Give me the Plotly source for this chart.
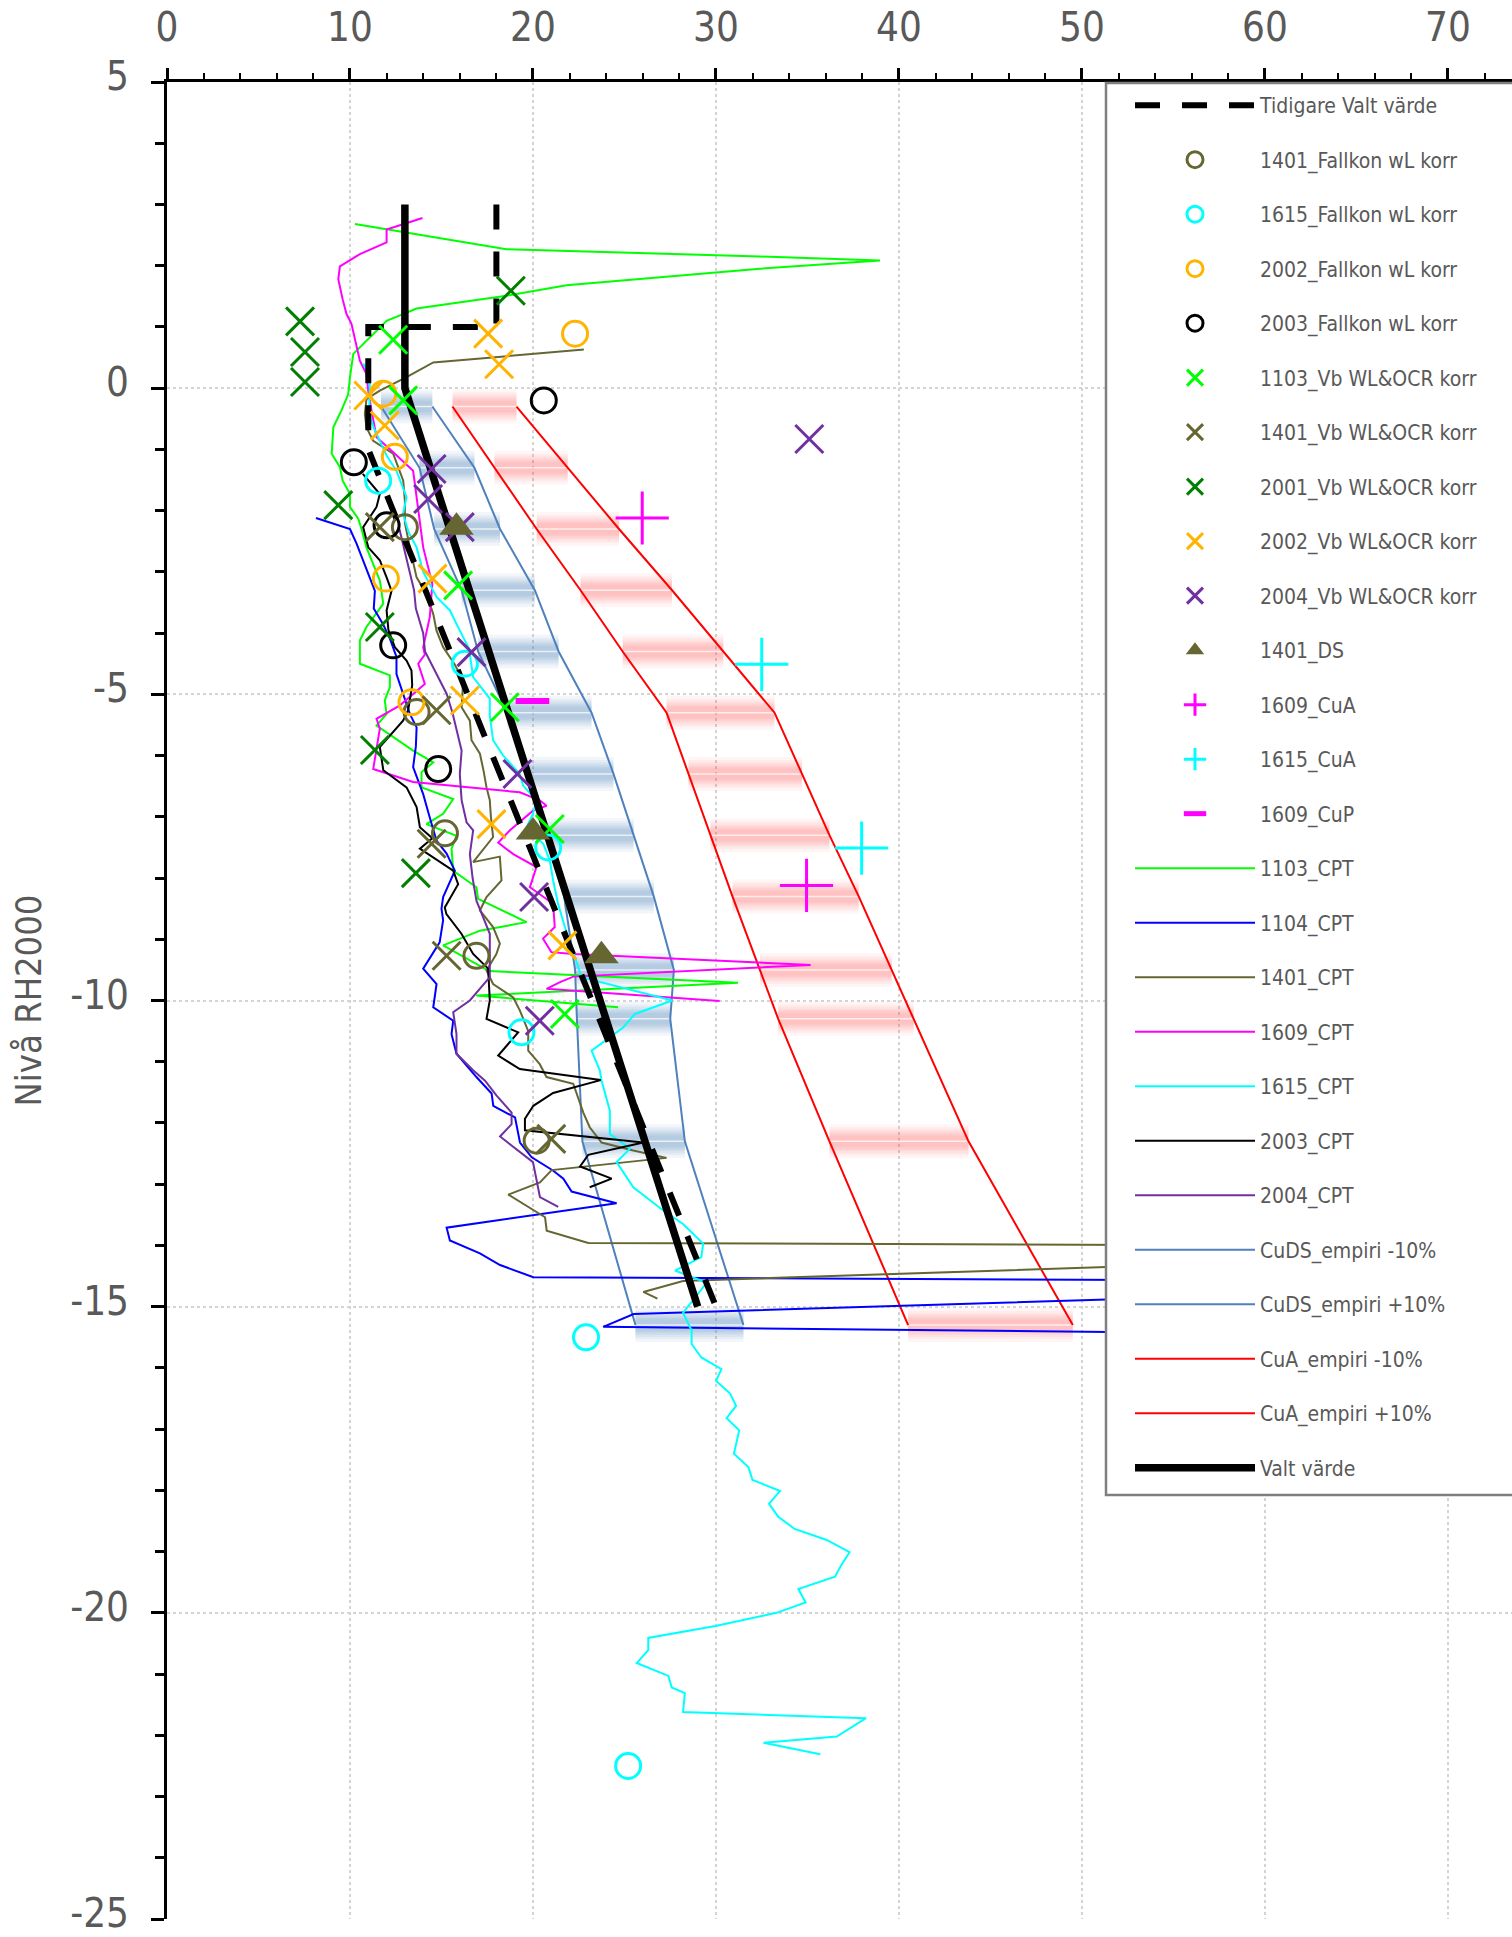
import plotly.graph_objects as go

FONT = "Liberation Sans Narrow, DejaVu Sans Condensed, Arial Narrow, sans-serif"
GREY = "#595959"

# ---------------- CPT soundings (x: shear strength, y: level RH2000) ----------------
cpt1103_x = [10.27, 18.55, 32.4, 38.96, 32.4, 21.83, 18.55, 13.64, 12.0, 11.27, 10.18, 10.0, 9.9, 9.54,
             9.09, 9.0, 9.45, 9.6, 10.0, 10.0, 10.45, 10.63, 10.9, 11.3, 11.63, 11.82, 10.9, 10.54, 10.54,
             12.18, 12.18, 11.9, 12.0, 11.45, 12.36, 13.45, 14.55, 13.91, 13.91, 15.64, 15.09, 14.18, 15.82,
             15.55, 15.64, 16.91, 17.0, 19.65, 17.1, 15.09, 17.6, 31.2, 16.9, 24.65]
cpt1103_y = [2.68, 2.27, 2.15, 2.085, 1.95, 1.68, 1.51, 1.30, 1.10, 0.89, 0.56, 0.18, -0.10, -0.36,
             -0.64, -1.07, -1.29, -1.51, -1.73, -1.94, -2.13, -2.30, -2.60, -2.90, -3.14, -3.52, -3.90, -4.12, -4.50,
             -4.69, -4.88, -5.10, -5.32, -5.51, -5.70, -5.92, -6.11, -6.27, -6.52, -6.71, -6.95, -7.12, -7.31,
             -7.52, -7.88, -8.15, -8.34, -8.72, -8.86, -9.10, -9.52, -9.71, -9.92, -10.11]

cpt1104_x = [8.14, 10.0, 10.36, 10.9, 11.36, 11.3, 11.8, 12.18, 12.54, 12.54, 13.27, 13.64, 13.6, 13.45,
             13.7, 14.0, 14.3, 14.73, 15.28, 15.73, 15.09, 15.0, 15.09, 14.9, 14.0, 14.73, 14.55, 15.64,
             15.55, 15.82, 16.91, 17.74, 17.83, 19.02, 19.29, 19.93, 21.11, 21.66, 22.11, 24.57, 15.28,
             15.46, 17.10, 18.2, 20.02, 80.0, 80.0, 25.5, 23.84, 80.0]
cpt1104_y = [-2.12, -2.30, -2.54, -2.95, -3.31, -3.60, -3.85, -4.09, -4.39, -4.67, -5.32, -5.54, -5.85, -6.19,
             -6.40, -6.63, -6.95, -7.39, -7.60, -7.88, -8.31, -8.50, -8.69, -9.05, -9.48, -9.73, -10.11, -10.33,
             -10.55, -10.87, -11.25, -11.52, -11.72, -11.91, -12.32, -12.56, -12.78, -12.91, -13.12, -13.31, -13.71,
             -13.92, -14.13, -14.32, -14.52, -14.60, -14.62, -15.12, -15.33, -15.50]

cpt1401_x = [22.78, 14.55, 13.09, 11.63, 10.9, 10.81, 10.9, 11.27, 12.36, 12.91, 13.0, 13.0, 13.27, 13.64,
             14.18, 14.55, 14.73, 15.09, 15.7, 16.19, 16.1, 16.55, 16.64, 17.1, 17.3, 17.46, 17.64, 17.7,
             17.82, 16.73, 18.19, 18.28, 17.46, 17.1, 17.82, 18.19, 18.0, 17.46, 17.82, 18.92, 19.28, 19.74,
             19.74, 20.37, 20.74, 22.2, 22.75, 23.1, 23.75, 25.48, 27.3, 21.02, 20.38, 18.65, 20.66, 20.75,
             23.02, 80.0, 80.0, 28.2, 26.03, 26.8]
cpt1401_y = [0.63, 0.42, 0.18, -0.04, -0.18, -0.42, -0.64, -0.86, -1.07, -1.51, -1.84, -2.20, -2.60, -3.09,
             -3.36, -3.69, -3.96, -4.23, -4.50, -4.77, -5.21, -5.43, -5.75, -5.97, -6.25, -6.52, -6.73, -7.00,
             -7.33, -7.74, -7.65, -8.04, -8.31, -8.53, -8.80, -9.07, -9.24, -9.51, -9.73, -9.95, -10.16, -10.50,
             -10.82, -11.04, -11.25, -11.36, -11.83, -12.07, -12.32, -12.45, -12.57, -12.77, -12.97, -13.17, -13.54, -13.76,
             -13.96, -14.02, -14.07, -14.58, -14.76, -14.87]

cpt1609_x = [13.96, 12.0, 12.0, 10.54, 9.45, 9.36, 9.6, 9.81, 10.08, 10.3, 10.54, 10.9, 11.0, 11.18,
             11.45, 12.2, 13.45, 13.64, 13.82, 14.0, 14.5, 14.36, 14.0, 14.09, 13.73, 14.09, 12.73, 11.45,
             11.63, 11.27, 13.45, 19.28, 20.37, 20.74, 20.0, 19.28, 18.74, 18.1, 18.92, 20.19, 19.83, 21.1,
             21.19, 20.55, 21.0, 22.2, 35.17, 22.2, 21.48, 20.74, 30.2]
cpt1609_y = [2.78, 2.59, 2.38, 2.19, 1.99, 1.78, 1.45, 1.21, 1.05, 0.75, 0.45, 0.23, -0.05, -0.37,
             -0.80, -1.00, -1.35, -1.78, -2.16, -2.60, -3.20, -3.74, -4.23, -4.35, -4.50, -4.83, -5.18, -5.40,
             -5.56, -6.22, -6.43, -6.60, -6.73, -6.82, -6.90, -7.09, -7.22, -7.42, -7.61, -7.82, -8.15, -8.42,
             -8.80, -8.99, -9.21, -9.24, -9.42, -9.61, -9.70, -9.81, -10.01]

cpt1615_x = [10.72, 11.09, 11.05, 11.3, 11.63, 12.0, 12.54, 13.09, 12.9, 13.2, 13.64, 14.0, 14.73, 15.46,
             16.0, 16.5, 16.6, 16.73, 17.64, 17.64, 17.82, 18.37, 19.28, 19.46, 20.19, 20.0, 19.65, 20.56,
             20.92, 21.1, 21.37, 21.74, 22.0, 22.3, 22.65, 27.62, 25.57, 24.93, 23.2, 23.65, 23.75, 24.2,
             24.2, 25.3, 24.57, 25.48, 27.12, 28.2, 29.3, 29.2, 27.76, 29.49, 28.2, 28.67, 28.67, 29.2,
             30.3, 30.0, 30.77, 31.1, 30.58, 31.27, 30.98, 31.77, 32.0, 33.5, 32.9, 33.4, 34.3, 36.05,
             37.3, 36.87, 36.5, 34.5, 34.9, 33.3, 30.04, 26.3, 26.3, 25.67, 27.4, 27.58, 28.3, 28.2,
             38.2, 36.6, 32.6, 35.7]
cpt1615_y = [0.40, 0.23, -0.42, -0.65, -0.86, -1.10, -1.35, -1.78, -2.05, -2.35, -2.60, -3.00, -3.41, -3.63,
             -3.96, -4.25, -4.45, -4.72, -5.07, -5.35, -5.75, -6.00, -6.30, -6.49, -6.73, -6.95, -7.17, -7.44,
             -7.71, -8.04, -8.42, -8.80, -9.02, -9.30, -9.62, -10.00, -10.22, -10.44, -10.82, -11.14, -11.31, -11.80,
             -12.18, -12.42, -12.64, -13.05, -13.43, -13.65, -13.97, -14.19, -14.41, -14.61, -15.10, -15.39, -15.61, -15.83,
             -16.02, -16.21, -16.42, -16.62, -16.82, -17.02, -17.40, -17.62, -17.83, -18.01, -18.22, -18.43, -18.63, -18.81,
             -19.01, -19.21, -19.41, -19.61, -19.83, -20.00, -20.21, -20.41, -20.61, -20.82, -21.03, -21.22, -21.31, -21.62,
             -21.72, -22.02, -22.12, -22.31]

cpt2003_x = [10.7, 11.63, 11.45, 10.72, 11.0, 11.63, 12.0, 12.27, 12.0, 12.1, 12.45, 13.09, 13.36, 13.4,
             13.18, 12.9, 11.63, 11.82, 13.09, 13.64, 13.82, 14.5, 13.82, 15.64, 15.91, 15.18, 15.27, 16.09,
             16.73, 17.55, 17.64, 17.46, 19.19, 18.1, 19.28, 23.7, 21.1, 20.02, 19.56, 19.56, 26.03, 23.02,
             22.57, 24.3, 23.1]
cpt2003_y = [-1.40, -1.73, -1.94, -2.27, -2.60, -2.81, -3.09, -3.31, -3.63, -3.95, -4.23, -4.45, -4.61, -4.85,
             -5.26, -5.43, -5.86, -6.24, -6.52, -6.84, -7.17, -7.35, -7.52, -7.88, -8.10, -8.48, -8.59, -8.91,
             -9.24, -9.48, -10.00, -10.30, -10.52, -10.90, -11.12, -11.30, -11.51, -11.72, -11.93, -12.12, -12.32, -12.52,
             -12.71, -12.91, -13.05]

cpt2004_x = [12.7, 12.9, 13.2, 13.5, 13.6, 14.0, 14.1, 14.6, 15.28, 15.6, 16.1, 16.0, 16.1, 16.37,
             16.73, 16.55, 16.7, 16.91, 17.28, 17.64, 17.64, 17.64, 16.55, 15.64, 15.82, 15.82, 16.73, 17.38,
             18.0, 18.83, 18.83, 18.2, 20.0, 20.2, 20.38, 21.38]
cpt2004_y = [-2.30, -2.54, -2.90, -3.30, -3.60, -4.00, -4.30, -4.60, -4.99, -5.30, -5.92, -6.30, -6.73, -7.09,
             -7.22, -7.61, -8.00, -8.37, -8.64, -8.91, -9.35, -9.62, -10.00, -10.19, -10.55, -10.87, -11.14, -11.31,
             -11.55, -11.83, -12.02, -12.22, -12.64, -12.97, -13.21, -13.37]

# ---------------- empirical strength bands ----------------
emp_level = [-0.3, -1.3, -2.3, -3.3, -4.3, -5.3, -6.3, -7.3, -8.3, -9.5, -10.3, -12.3, -15.3]
cuds_lo = [11.7, 13.8, 14.6, 16.1, 17.0, 18.6, 19.7, 20.7, 21.7, 22.3, 22.4, 22.7, 25.6]
cuds_hi = [14.5, 16.8, 18.2, 20.1, 21.4, 23.2, 24.4, 25.5, 26.6, 27.7, 27.5, 28.3, 31.5]
cua_lo = [15.6, 17.9, 20.2, 22.6, 24.9, 27.3, 28.5, 29.7, 30.9, 32.4, 33.4, 36.2, 40.5]
cua_hi = [19.1, 21.9, 24.7, 27.6, 30.4, 33.2, 34.7, 36.2, 37.8, 39.6, 40.8, 43.8, 49.5]

# ---------------- chosen design profiles ----------------
valt_x = [13, 13, 29]
valt_y = [3, 0, -15]
tidigare_x = [18, 18, 11, 11, 30]
tidigare_y = [3, 1, 1, -1, -15]

# ---------------- point measurements ----------------
fk1401_x = [13.0, 13.64, 15.19, 16.91, 20.2]
fk1401_y = [-2.27, -5.29, -7.27, -9.27, -12.29]
fk1615_x = [11.54, 16.28, 20.83, 19.37, 22.9, 25.2]
fk1615_y = [-1.51, -4.50, -7.50, -10.52, -15.5, -22.5]
fk2002_x = [22.3, 11.82, 12.45, 11.96, 13.36]
fk2002_y = [0.89, -0.09, -1.12, -3.11, -5.13]
fk2003_x = [20.59, 10.21, 12.0, 12.36, 14.82]
fk2003_y = [-0.20, -1.21, -2.24, -4.20, -6.22]

vb1103_x = [12.36, 12.91, 15.91, 18.46, 20.92, 21.74]
vb1103_y = [0.79, -0.20, -3.22, -5.21, -7.20, -10.22]
vb1401_x = [11.63, 14.73, 14.46, 15.28, 21.0]
vb1401_y = [-2.27, -5.26, -7.44, -9.27, -12.26]
vb2001_x = [7.27, 7.54, 7.54, 18.79, 9.36, 11.63, 11.36, 13.6]
vb2001_y = [1.09, 0.59, 0.10, 1.59, -1.91, -3.90, -5.91, -7.92]
vb2002_x = [17.55, 18.15, 11.0, 11.9, 14.51, 16.28, 17.73, 21.61]
vb2002_y = [0.89, 0.39, -0.12, -0.61, -3.11, -5.10, -7.12, -9.10]
vb2004_x = [35.1, 14.46, 14.27, 16.0, 16.64, 19.15, 20.06, 20.37]
vb2004_y = [-0.83, -1.32, -1.81, -2.27, -4.31, -6.30, -8.31, -10.33]

ds1401_x = [15.82, 20.0, 23.74]
ds1401_y = [-2.27, -7.25, -9.27]
cua1609_x = [25.97, 34.95]
cua1609_y = [-2.12, -8.12]
cua1615_x = [32.5, 37.96]
cua1615_y = [-4.51, -7.51]
cup1609_x = [19.97]
cup1609_y = [-5.11]

# axis ticks (plain hyphen minus in the labels)
x_ticks = [0, 10, 20, 30, 40, 50, 60, 70]
y_ticks = [5, 0, -5, -10, -15, -20, -25]
y_ticktext = ["5", "0", "-5", "-10", "-15", "-20", "-25"]


def bar_path(lo, hi, lev):
    xs, ys = [], []
    for a, b, c in zip(lo, hi, lev):
        xs += [a, b, None]
        ys += [c, c, None]
    return xs, ys


fig = go.Figure()

# soft glowing range bars between the -10% / +10% empirical values:
# stacked translucent strokes of decreasing width give a blurred band
for lo, hi, rgb, alpha in [(cuds_lo, cuds_hi, "79,129,189", 0.075),
                           (cua_lo, cua_hi, "255,80,80", 0.055)]:
    bx, by = bar_path(lo, hi, emp_level)
    for w in (34, 28, 24, 20, 17, 14, 11):
        fig.add_trace(go.Scatter(x=bx, y=by, mode="lines", line=dict(color=f"rgba({rgb},{alpha})", width=w),
                                 showlegend=False, hoverinfo="skip"))
    fig.add_trace(go.Scatter(x=bx, y=by, mode="lines", line=dict(color="rgba(255,255,255,0.7)", width=1.5),
                             showlegend=False, hoverinfo="skip"))

legend_order = ["Tidigare Valt värde", "1401_Fallkon wL korr", "1615_Fallkon wL korr", "2002_Fallkon wL korr",
                "2003_Fallkon wL korr", "1103_Vb WL&OCR korr", "1401_Vb WL&OCR korr", "2001_Vb WL&OCR korr",
                "2002_Vb WL&OCR korr", "2004_Vb WL&OCR korr", "1401_DS", "1609_CuA", "1615_CuA", "1609_CuP",
                "1103_CPT", "1104_CPT", "1401_CPT", "1609_CPT", "1615_CPT", "2003_CPT", "2004_CPT",
                "CuDS_empiri -10%", "CuDS_empiri +10%", "CuA_empiri -10%", "CuA_empiri +10%", "Valt värde"]
rank = {n: i + 1 for i, n in enumerate(legend_order)}


def add_line(x, y, name, color, width, dash=None):
    fig.add_trace(go.Scatter(x=x, y=y, mode="lines", name=name, legendgroup=name, legendrank=rank[name],
                             line=dict(color=color, width=width, dash=dash), hoverinfo="skip"))


def add_marker(x, y, name, color, symbol, size, lw):
    fig.add_trace(go.Scatter(x=x, y=y, mode="markers", name=name, legendgroup=name, legendrank=rank[name],
                             marker=dict(symbol=symbol, size=size, color=color,
                                         line=dict(color=color, width=lw)),
                             hoverinfo="skip"))


add_line(cuds_lo, emp_level, "CuDS_empiri -10%", "#4F81BD", 2)
add_line(cuds_hi, emp_level, "CuDS_empiri +10%", "#4F81BD", 2)
add_line(cua_lo, emp_level, "CuA_empiri -10%", "#FF0000", 2)
add_line(cua_hi, emp_level, "CuA_empiri +10%", "#FF0000", 2)

add_line(cpt1103_x, cpt1103_y, "1103_CPT", "#00FF00", 2)
add_line(cpt1104_x, cpt1104_y, "1104_CPT", "#0000FF", 2)
add_line(cpt1401_x, cpt1401_y, "1401_CPT", "#666633", 2)
add_line(cpt1609_x, cpt1609_y, "1609_CPT", "#FF00FF", 2)
add_line(cpt1615_x, cpt1615_y, "1615_CPT", "#00FFFF", 2)
add_line(cpt2003_x, cpt2003_y, "2003_CPT", "#000000", 2)
add_line(cpt2004_x, cpt2004_y, "2004_CPT", "#7030A0", 2)

add_line(tidigare_x, tidigare_y, "Tidigare Valt värde", "#000000", 6, dash="25px,22px")
add_line(valt_x, valt_y, "Valt värde", "#000000", 7.5)

add_marker(fk1401_x, fk1401_y, "1401_Fallkon wL korr", "#666633", "circle-open", 25, 3)
add_marker(fk1615_x, fk1615_y, "1615_Fallkon wL korr", "#00FFFF", "circle-open", 25, 3)
add_marker(fk2002_x, fk2002_y, "2002_Fallkon wL korr", "#FFB400", "circle-open", 25, 3)
add_marker(fk2003_x, fk2003_y, "2003_Fallkon wL korr", "#000000", "circle-open", 25, 3)
add_marker(vb1103_x, vb1103_y, "1103_Vb WL&OCR korr", "#00FF00", "x-thin-open", 28, 3)
add_marker(vb1401_x, vb1401_y, "1401_Vb WL&OCR korr", "#666633", "x-thin-open", 28, 3)
add_marker(vb2001_x, vb2001_y, "2001_Vb WL&OCR korr", "#007F00", "x-thin-open", 28, 3)
add_marker(vb2002_x, vb2002_y, "2002_Vb WL&OCR korr", "#FFB400", "x-thin-open", 28, 3)
add_marker(vb2004_x, vb2004_y, "2004_Vb WL&OCR korr", "#7030A0", "x-thin-open", 28, 3)
add_marker(ds1401_x, ds1401_y, "1401_DS", "#666633", "triangle-up", 30, 0)
add_marker(cua1609_x, cua1609_y, "1609_CuA", "#FF00FF", "cross-thin-open", 38, 3)
add_marker(cua1615_x, cua1615_y, "1615_CuA", "#00FFFF", "cross-thin-open", 38, 3)
add_marker(cup1609_x, cup1609_y, "1609_CuP", "#FF00FF", "line-ew-open", 24, 6)

axis_common = dict(
    showline=True, linecolor="black", linewidth=3,
    ticks="outside", tickcolor="black", tickwidth=3,
    showgrid=True, gridcolor="#d4d4d4", gridwidth=2, griddash="dot",
    zeroline=False, ticklabeloverflow="allow",
    tickfont=dict(family=FONT, size=40, color=GREY),
)

PLOT_L, PLOT_T, PLOT_B = 167, 82, 18
PLOT_W, PLOT_H = 1512 - PLOT_L, 1937 - PLOT_T - PLOT_B

fig.update_layout(
    width=1512, height=1937,
    margin=dict(l=PLOT_L, r=0, t=PLOT_T, b=PLOT_B, autoexpand=False),
    plot_bgcolor="white", paper_bgcolor="white",
    xaxis=dict(range=[0, 73.5], side="top", tickmode="array", tickvals=x_ticks, ticklen=11,
               minor=dict(dtick=2, tick0=0, ticks="outside", ticklen=6, tickwidth=2, tickcolor="black",
                          showgrid=False),
               ticklabelstandoff=11, **axis_common),
    yaxis=dict(range=[-25, 5], tickmode="array", tickvals=y_ticks, ticktext=y_ticktext, ticklen=13,
               minor=dict(dtick=1, tick0=0, ticks="outside", ticklen=9, tickwidth=3, tickcolor="black",
                          showgrid=False),
               ticklabelstandoff=14, ticklabelshift=-6,
               title=dict(text="Nivå RH2000", font=dict(family=FONT, size=36, color=GREY), standoff=18),
               **axis_common),
    showlegend=True,
    legend=dict(x=(1106 + 24 - PLOT_L) / PLOT_W, y=1.0 - 3 / PLOT_H, xanchor="left", yanchor="top",
                bgcolor="rgba(0,0,0,0)", borderwidth=0,
                font=dict(family=FONT, size=21, color=GREY),
                itemwidth=120, traceorder="grouped", tracegroupgap=24.2, itemclick=False),
    # legend frame, reaching past the right edge of the page
    shapes=[dict(type="rect", xref="paper", yref="paper", layer="above",
                 x0=(1106 - PLOT_L) / PLOT_W, x1=1.05,
                 y0=(PLOT_T + PLOT_H - 1495) / PLOT_H, y1=1.0 - 1 / PLOT_H,
                 fillcolor="white", line=dict(color="#7f7f7f", width=2.5))],
)

fig.write_html("out.html")
